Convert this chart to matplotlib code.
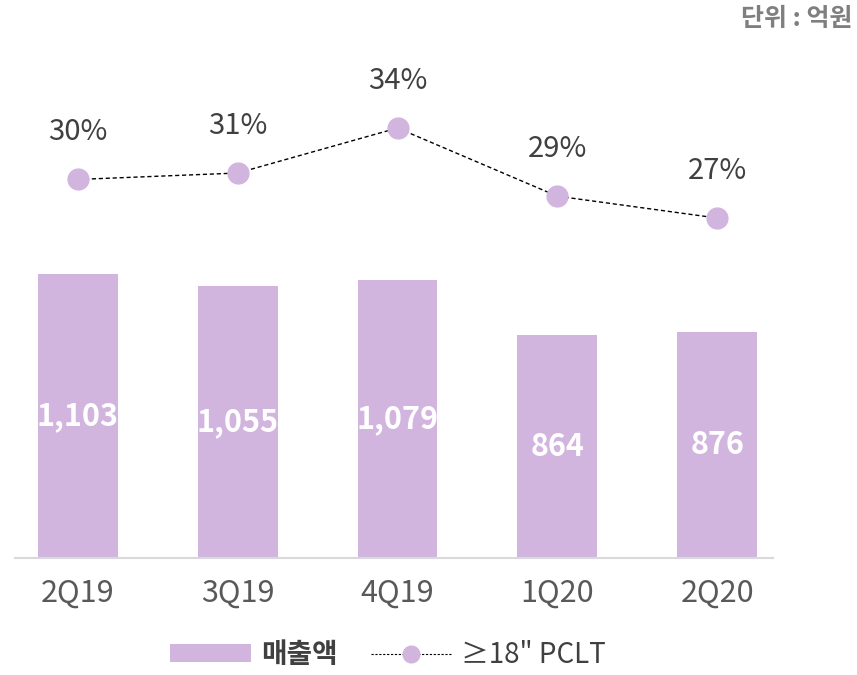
import matplotlib
matplotlib.use("Agg")
import matplotlib.pyplot as plt
from matplotlib.lines import Line2D
from matplotlib.patches import Patch

plt.rcParams['font.family'] = ['Noto Sans CJK KR', 'DejaVu Sans']

categories = ["2Q19", "3Q19", "4Q19", "1Q20", "2Q20"]
sales = [1103, 1055, 1079, 864, 876]
sales_labels = ["1,103", "1,055", "1,079", "864", "876"]
pclt_share = [30.0, 30.5, 34.0, 28.7, 27.0]
pclt_labels = ["30%", "31%", "34%", "29%", "27%"]
legend_labels = ["매출액", "≥18\" PCLT"]
unit_text = "단위 : 억원"

bar_color = "#D2B5DF"
W, H = 857, 675
fig = plt.figure(figsize=(W / 100, H / 100), dpi=100)

left, right, bottom, top = 15, 773, 558, 20
ax = fig.add_axes([left / W, (H - bottom) / H, (right - left) / W, (bottom - top) / H])
x = list(range(len(categories)))
ax.bar(x, sales, width=0.5, color=bar_color, zorder=2)
ax.set_xlim(-0.394, 4.35)
ax.set_ylim(0, 2089)
for xi, v, lab in zip(x, sales, sales_labels):
    ax.text(xi, v / 2, lab, ha="center", va="center", color="white",
            fontsize=22, fontweight="bold", zorder=3)
ax.set_xticks(x)
ax.set_xticklabels(categories, fontsize=22, color="#595959", fontweight="medium")
ax.tick_params(axis="x", length=0, pad=14)
ax.set_yticks([])
for s in ["top", "right", "left"]:
    ax.spines[s].set_visible(False)
ax.spines["bottom"].set_color("#D9D9D9")
ax.spines["bottom"].set_linewidth(1.5)

ax2 = ax.twinx()
ax2.set_ylim(0.56, 42.4)
ax2.plot(x, pclt_share, color="black", linestyle=(0, (3, 2)), linewidth=1,
         marker="o", markersize=15, markerfacecolor=bar_color,
         markeredgecolor=bar_color, zorder=3)
for xi, v, lab in zip(x, pclt_share, pclt_labels):
    ax2.annotate(lab, (xi, v), xytext=(0, 34), textcoords="offset points",
                 ha="center", va="center", fontsize=21, color="#404040",
                 fontweight="medium")
ax2.set_yticks([])
for s in ["top", "right", "left", "bottom"]:
    ax2.spines[s].set_visible(False)

fig.text(852 / W, 1 - 19 / H, unit_text, ha="right", va="center",
         fontsize=18, fontweight="bold", color="#7F7F7F")

handles = [
    Patch(facecolor=bar_color, edgecolor="none"),
    Line2D([0], [0], color="black", linestyle=(0, (2, 1.5)), linewidth=0.8,
           marker="o", markersize=12, markerfacecolor=bar_color,
           markeredgecolor=bar_color),
]
leg = fig.legend(handles, legend_labels, loc="center", bbox_to_anchor=(388 / W, 1 - 655 / H),
                 ncol=2, frameon=False, fontsize=20, handlelength=2.9, handleheight=0.6,
                 columnspacing=1.2, handletextpad=0.35, labelcolor="#404040")
leg.get_texts()[0].set_fontweight("bold")
leg.get_texts()[1].set_fontweight("medium")

fig.savefig("out.png", dpi=100)
